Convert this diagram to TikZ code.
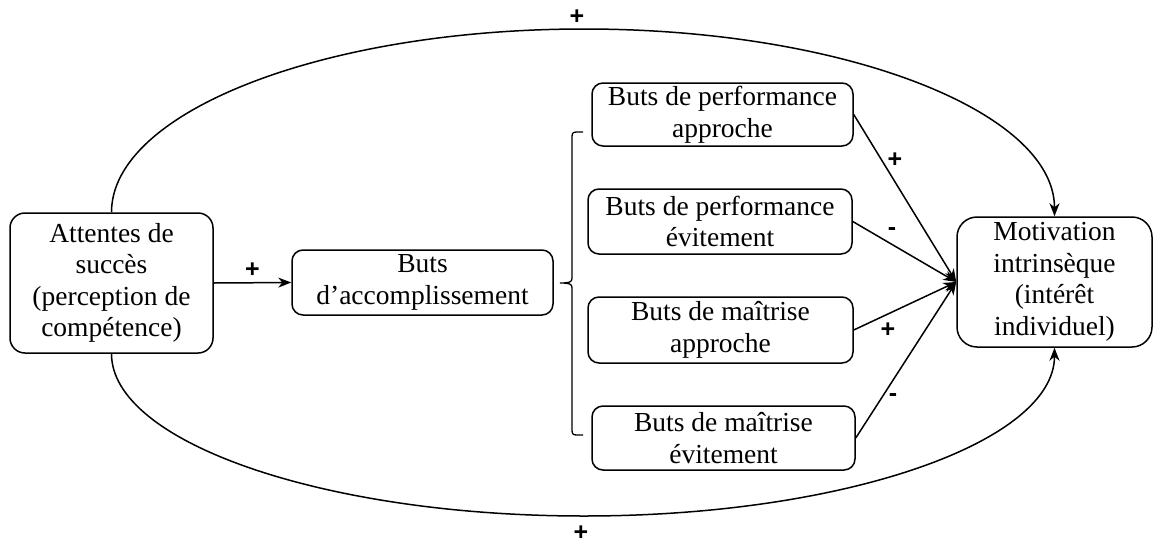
\documentclass[tikz,border=0pt]{standalone}
\usepackage{fontspec}
\setmainfont{Liberation Serif}
\newfontfamily\labfont{Liberation Sans}
\usetikzlibrary{arrows.meta,calc}
\begin{document}
\begin{tikzpicture}[x=1pt,y=-1pt,
  line width=1.5pt,
  box/.style={draw, rounded corners=#1, align=center, inner sep=0pt,
    font=\fontsize{27.5}{31.5}\selectfont},
  box/.default=11pt,
  arr/.style={-{Stealth[length=13pt,width=10pt,inset=4pt]}},
  sign/.style={font=\labfont\bfseries\fontsize{25}{25}\selectfont, inner sep=0pt}
]
\useasboundingbox (0,0) rectangle (1154,544);

% main boxes
\node[box=15pt, minimum width=203pt, minimum height=140pt] (att) at (111.5,283)
  {Attentes de\\succès\\(perception de\\compétence)};
\node[box, minimum width=261pt, minimum height=65pt] (acc) at (422.5,282.5)
  {Buts\\d’accomplissement};
\node[box, minimum width=261pt, minimum height=63pt] (pa) at (722.5,114.5)
  {Buts de performance\\approche};
\node[box, minimum width=264pt, minimum height=65pt] (pe) at (720,221.5)
  {Buts de performance\\évitement};
\node[box, minimum width=265pt, minimum height=66pt] (ma) at (720.5,330)
  {Buts de maîtrise\\approche};
\node[box, minimum width=263pt, minimum height=64pt] (me) at (723.5,438)
  {Buts de maîtrise\\évitement};
\node[box=20pt, minimum width=195pt, minimum height=130pt] (mot) at (1054.5,282)
  {Motivation\\intrinsèque\\(intérêt\\individuel)};

% grouping bracket
\draw[line width=1.3pt] (583,132) -- (577,132) .. controls (573,132) and (572,133) .. (572,137)
  -- (572,278) .. controls (572,282) and (570,283) .. (560,283)
  .. controls (570,283) and (572,284) .. (572,288)
  -- (572,430) .. controls (572,434) and (573,435) .. (577,435) -- (583,435);

% direct link
\draw[arr] (att.east) -- node[sign, above, yshift=5pt] {+} (acc.west);

% links towards intrinsic motivation
\draw[arr] (pa.east) -- (mot.west);
\draw[arr] (pe.east) -- (mot.west);
\draw[arr] (ma.east) -- (mot.west);
\draw[arr] (me.east) -- (mot.west);
\node[sign] (s1) at (895,160) {+};
\node[sign] (s2) at (892,232) {-};
\node[sign] (s3) at (888,330) {+};
\node[sign] (s4) at (893,398) {-};

% outer curved links
\draw[arr] (att.north) .. controls (111.5,112) and (323,29) .. (584,29)
  .. controls (845,29) and (1054.5,112) .. (mot.north);
\draw[arr] (att.south) .. controls (111.5,442) and (323,516) .. (584,516)
  .. controls (845,516) and (1054.5,442) .. (mot.south);
\node[sign] (top) at (577,17) {+};
\node[sign] (bot) at (581,533) {+};
\end{tikzpicture}
\end{document}
